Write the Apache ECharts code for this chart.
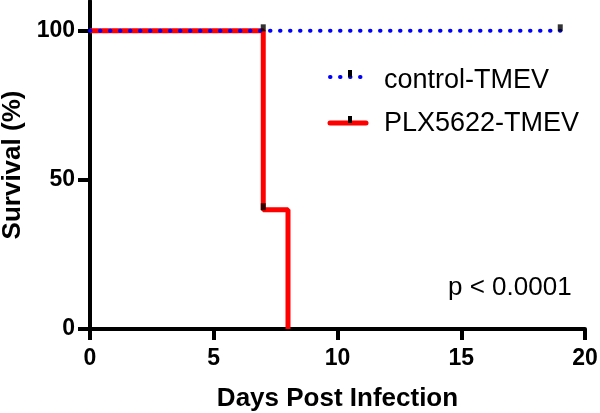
<!DOCTYPE html>
<html>
<head>
<meta charset="utf-8">
<script src="https://cdn.jsdelivr.net/npm/echarts@6/dist/echarts.min.js"></script>
<style>html,body{margin:0;padding:0;background:#fff}#c{width:600px;height:413px}</style>
</head>
<body>
<div id="c"></div>
<script>
const seriesNames = ['control-TMEV', 'PLX5622-TMEV'];
const controlSteps = [[0, 100], [19, 100]];
const plxSteps = [[0, 100], [7, 40], [8, 0]];
const censorPoints = [[7, 100], [7, 40], [19, 100]];
const xTicks = [0, 5, 10, 15, 20];
const yTicks = [0, 50, 100];
const pText = 'p < 0.0001';

const FONT = '"Liberation Sans", Arial, sans-serif';
const BLUE = '#0000ff', RED = '#ff0000';
const chart = echarts.init(document.getElementById('c'), null, {renderer: 'canvas'});

// legend key samples (line + censor tick), drawn next to the legend texts
const legendRows = [
  {y: 77, color: BLUE, dash: [0.5, 9.5], width: 4},
  {y: 123, color: RED, dash: null, width: 5}
];
const legendGraphics = [];
legendRows.forEach(r => {
  legendGraphics.push({
    type: 'line', z: 10,
    shape: {x1: 330, y1: r.y, x2: 366, y2: r.y},
    style: {stroke: r.color, lineWidth: r.width, lineCap: 'round', lineDash: r.dash}
  });
  legendGraphics.push({
    type: 'rect', z: 11,
    shape: {x: 348, y: r.y - 7, width: 4, height: 7},
    style: {fill: '#000'}
  });
});

chart.setOption({
  animation: false,
  backgroundColor: '#fff',
  grid: {left: 90, right: 15, top: 1, bottom: 84, containLabel: false, outerBoundsMode: 'none'},
  xAxis: {
    type: 'value', min: 0, max: 20, interval: 5,
    name: 'Days Post Infection', nameLocation: 'middle', nameGap: 57,
    nameTextStyle: {fontFamily: FONT, fontWeight: 'bold', fontSize: 26, color: '#000'},
    axisLine: {lineStyle: {color: '#000', width: 4}},
    axisTick: {show: true, length: 11, lineStyle: {color: '#000', width: 4}, customValues: xTicks},
    axisLabel: {fontFamily: FONT, fontWeight: 'bold', fontSize: 23, color: '#000', margin: 18, customValues: xTicks},
    splitLine: {show: false}
  },
  yAxis: {
    type: 'value', min: 0, max: 110, interval: 50,
    name: 'Survival (%)', nameLocation: 'middle', nameGap: 61,
    nameTextStyle: {fontFamily: FONT, fontWeight: 'bold', fontSize: 26, color: '#000'},
    axisLine: {show: true, lineStyle: {color: '#000', width: 4}},
    axisTick: {show: true, length: 12, lineStyle: {color: '#000', width: 4}, customValues: yTicks},
    axisLabel: {fontFamily: FONT, fontWeight: 'bold', fontSize: 23, color: '#000', margin: 15, customValues: yTicks},
    splitLine: {show: false}
  },
  legend: {
    left: 328, top: 62, orient: 'vertical', itemWidth: 40, itemHeight: 12, itemGap: 16,
    icon: 'rect', itemStyle: {opacity: 0}, lineStyle: {opacity: 0},
    textStyle: {fontFamily: FONT, fontSize: 27, color: '#000', padding: [0, 0, 0, 6]},
    selectedMode: false,
    data: seriesNames
  },
  series: [
    {
      name: seriesNames[1], type: 'line', step: 'end', data: plxSteps, z: 2,
      symbol: 'none',
      itemStyle: {color: RED},
      lineStyle: {color: RED, width: 5}
    },
    {
      name: seriesNames[0], type: 'line', step: 'end', data: controlSteps, z: 3,
      symbol: 'none',
      itemStyle: {color: BLUE},
      lineStyle: {color: BLUE, width: 4, type: [0.5, 9.5], cap: 'round'}
    },
    {
      name: 'censor', type: 'scatter', data: censorPoints, z: 4,
      symbol: 'rect', symbolSize: [5, 7], symbolOffset: [0, -3],
      itemStyle: {color: '#000'}, silent: true
    }
  ],
  graphic: legendGraphics.concat([{
    type: 'text', left: 448, top: 275,
    style: {text: pText, fontFamily: FONT, fontSize: 26, fill: '#000'}
  }])
});
</script>
</body>
</html>
